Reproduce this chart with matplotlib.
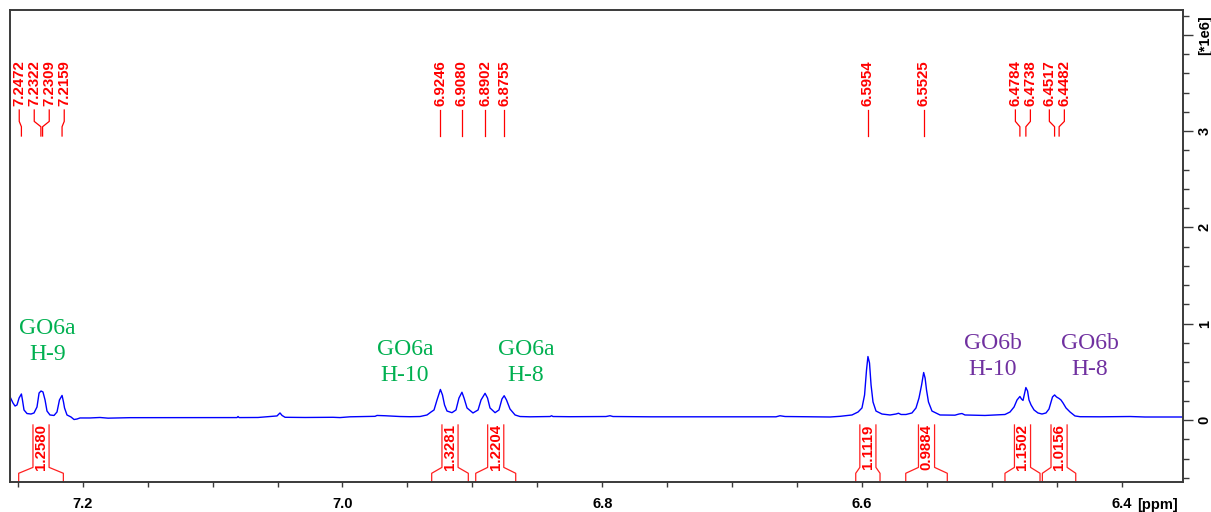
import matplotlib
matplotlib.use("Agg")
import matplotlib.pyplot as plt
import matplotlib.transforms as mtransforms
from matplotlib.ticker import MultipleLocator, FixedLocator, FixedFormatter, FormatStrFormatter

# ---------------- data ----------------
# 1H spectrum trace: chemical shift (ppm) and intensity (x 1e6)
spec_ppm = [7.2560, 7.2537, 7.2521, 7.2506, 7.2490, 7.2472, 7.2464, 7.2452, 7.2429, 7.2398,
            7.2375, 7.2352, 7.2336, 7.2321, 7.2306, 7.2290, 7.2275, 7.2252, 7.2221, 7.2198,
            7.2179, 7.2159, 7.2148, 7.2140, 7.2121, 7.2090, 7.2067, 7.2044, 7.2021, 7.1944,
            7.1867, 7.1805, 7.1636, 7.1097, 7.0812, 7.0804, 7.0796, 7.0650, 7.0504, 7.0481,
            7.0465, 7.0442, 7.0288, 7.0073, 7.0019, 6.9942, 6.9749, 6.9734, 6.9672, 6.9557,
            6.9480, 6.9403, 6.9349, 6.9318, 6.9295, 6.9272, 6.9246, 6.9230, 6.9214, 6.9195,
            6.9157, 6.9126, 6.9103, 6.9080, 6.9064, 6.9041, 6.8995, 6.8956, 6.8933, 6.8902,
            6.8883, 6.8864, 6.8825, 6.8795, 6.8772, 6.8755, 6.8737, 6.8710, 6.8671, 6.8633,
            6.8556, 6.8402, 6.8390, 6.8379, 6.8248, 6.7971, 6.7940, 6.7917, 6.7632, 6.7247,
            6.6662, 6.6631, 6.6592, 6.6477, 6.6246, 6.6169, 6.6077, 6.6030, 6.6000, 6.5980,
            6.5965, 6.5954, 6.5942, 6.5930, 6.5915, 6.5892, 6.5846, 6.5784, 6.5738, 6.5719,
            6.5699, 6.5661, 6.5615, 6.5584, 6.5561, 6.5541, 6.5525, 6.5514, 6.5503, 6.5488,
            6.5461, 6.5399, 6.5284, 6.5253, 6.5230, 6.5207, 6.5053, 6.4899, 6.4860, 6.4829,
            6.4806, 6.4784, 6.4772, 6.4760, 6.4738, 6.4725, 6.4714, 6.4698, 6.4675, 6.4645,
            6.4614, 6.4583, 6.4560, 6.4544, 6.4533, 6.4517, 6.4502, 6.4482, 6.4468, 6.4452,
            6.4429, 6.4398, 6.4360, 6.4321, 6.4167, 6.3936, 6.3821, 6.3705, 6.3530]
spec_int = [0.242, 0.177, 0.145, 0.156, 0.228, 0.270, 0.208, 0.104, 0.067, 0.062,
            0.073, 0.135, 0.280, 0.301, 0.291, 0.208, 0.093, 0.052, 0.047, 0.083,
            0.208, 0.255, 0.187, 0.125, 0.052, 0.031, 0.005, 0.010, 0.021, 0.021,
            0.026, 0.019, 0.024, 0.024, 0.025, 0.036, 0.025, 0.026, 0.042, 0.073,
            0.047, 0.028, 0.026, 0.028, 0.025, 0.033, 0.038, 0.047, 0.044, 0.036,
            0.034, 0.036, 0.052, 0.083, 0.104, 0.208, 0.317, 0.260, 0.156, 0.093,
            0.076, 0.104, 0.228, 0.288, 0.228, 0.125, 0.073, 0.104, 0.208, 0.277,
            0.228, 0.125, 0.076, 0.104, 0.218, 0.252, 0.208, 0.114, 0.052, 0.036,
            0.033, 0.036, 0.044, 0.036, 0.034, 0.036, 0.044, 0.036, 0.033, 0.033,
            0.033, 0.044, 0.036, 0.034, 0.031, 0.038, 0.052, 0.083, 0.125, 0.260,
            0.519, 0.659, 0.592, 0.363, 0.187, 0.093, 0.062, 0.052, 0.062, 0.070,
            0.057, 0.057, 0.073, 0.125, 0.228, 0.363, 0.493, 0.436, 0.312, 0.187,
            0.093, 0.052, 0.050, 0.062, 0.067, 0.052, 0.047, 0.057, 0.083, 0.135,
            0.208, 0.244, 0.218, 0.203, 0.337, 0.301, 0.208, 0.156, 0.104, 0.073,
            0.062, 0.073, 0.114, 0.187, 0.239, 0.260, 0.239, 0.223, 0.208, 0.177,
            0.125, 0.083, 0.042, 0.034, 0.033, 0.036, 0.031, 0.031, 0.031]

# picked peaks
peak_ppm = [7.2472, 7.2322, 7.2309, 7.2159, 6.9246, 6.9080, 6.8902, 6.8755,
            6.5954, 6.5525, 6.4784, 6.4738, 6.4517, 6.4482]
peak_text = ["7.2472", "7.2322", "7.2309", "7.2159", "6.9246", "6.9080", "6.8902", "6.8755",
             "6.5954", "6.5525", "6.4784", "6.4738", "6.4517", "6.4482"]

# integration regions (start, end in ppm) and integral values
integral_start = [7.2493, 6.9313, 6.8974, 6.6048, 6.5663, 6.4899, 6.4611]
integral_end = [7.2149, 6.9031, 6.8666, 6.5861, 6.5343, 6.4629, 6.4354]
integral_value = ["1.2580", "1.3281", "1.2204", "1.1119", "0.9884", "1.1502", "1.0156"]

# signal assignments (anchored at the baseline of the lower line)
assign_text = ["GO6a\nH-9", "GO6a\nH-10", "GO6a\nH-8", "GO6b\nH-10", "GO6b\nH-8"]
assign_ppm = [7.2271, 6.9518, 6.8587, 6.4993, 6.4248]
assign_int = [0.623, 0.405, 0.405, 0.467, 0.467]
assign_group = ["a", "a", "a", "b", "b"]

x_ticks = [7.2, 7.0, 6.8, 6.6, 6.4]
y_ticks = [0, 1, 2, 3, 4]
y_tick_text = ["0", "1", "2", "3", "[*1e6]"]

# ---------------- styling ----------------
SANS = ["Liberation Sans", "DejaVu Sans"]
SERIF = ["Liberation Serif", "DejaVu Serif"]
FRAME = "#3a3a3a"
GROUP_COLOR = {"a": "#00B050", "b": "#7030A0"}

fig = plt.figure(figsize=(12.11, 5.12), dpi=100)
ax = fig.add_axes([0.00867, 0.05859, 0.96780, 0.92091])

ax.plot(spec_ppm, spec_int, color="#0000ff", lw=1.0)

ax.set_xlim(7.2556, 6.3532)
ax.set_ylim(-0.644, 4.2523)

for s in ax.spines.values():
    s.set_color(FRAME)
    s.set_linewidth(1.4)

# x axis
ax.xaxis.set_major_locator(FixedLocator(x_ticks))
ax.xaxis.set_major_formatter(FormatStrFormatter("%.1f"))
ax.xaxis.set_minor_locator(MultipleLocator(0.05))
ax.tick_params(axis="x", which="both", direction="out", length=3.5, width=1.0,
               color=FRAME, pad=7)
for lab in ax.get_xticklabels():
    lab.set_fontfamily(SANS)
    lab.set_fontweight("bold")
    lab.set_fontsize(10.5)
fig.text(1137 / 1211, 1 - 509 / 512, "[ppm]", ha="left", va="baseline",
         fontsize=10.5, fontweight="bold", family=SANS)

# y axis on the right
ax.yaxis.tick_right()
ax.yaxis.set_major_locator(FixedLocator(y_ticks))
ax.yaxis.set_major_formatter(FixedFormatter(y_tick_text))
ax.yaxis.set_minor_locator(MultipleLocator(0.2))
ax.tick_params(axis="y", which="major", direction="out", length=7, width=1.0,
               color=FRAME, pad=4)
ax.tick_params(axis="y", which="minor", direction="out", length=4, width=1.0,
               color=FRAME)
for lab in ax.get_yticklabels():
    lab.set_rotation(90)
    lab.set_va("center")
    lab.set_ha("left")
    lab.set_fontfamily(SANS)
    lab.set_fontweight("bold")
    lab.set_fontsize(10.5)

trans = mtransforms.blended_transform_factory(ax.transData, ax.transAxes)

# ---- peak labels, spread apart where peaks crowd together ----
gap = 0.01155
clusters = [[i] for i in range(len(peak_ppm))]


def cluster_pos(cl):
    c = sum(peak_ppm[i] for i in cl) / len(cl)
    n = len(cl)
    return [c + ((n - 1) / 2 - k) * gap for k in range(n)]


merged = True
while merged:
    merged = False
    for k in range(len(clusters) - 1):
        a = cluster_pos(clusters[k])
        b = cluster_pos(clusters[k + 1])
        if a[-1] - b[0] < gap:
            clusters[k] = clusters[k] + clusters[k + 1]
            del clusters[k + 1]
            merged = True
            break

label_x = {}
for cl in clusters:
    for i, p in zip(cl, cluster_pos(cl)):
        label_x[i] = p

for i, p in enumerate(peak_ppm):
    lx = label_x[i]
    ax.plot([lx, lx, p, p], [0.789, 0.7648, 0.7535, 0.7338], color="#ff0000",
            lw=0.9, transform=trans, clip_on=False)
    ax.text(lx, 0.7975, peak_text[i], transform=trans, rotation=90, ha="center",
            va="bottom", color="#ff0000", fontsize=10.8, fontweight="bold", family=SANS)

# ---- integral brackets ----
half = 0.0062
for a, b, v in zip(integral_start, integral_end, integral_value):
    c = (a + b) / 2
    ax.plot([a, a, c + half, c + half], [0.0, 0.0185, 0.031, 0.121], color="#ff2020",
            lw=0.9, transform=trans, clip_on=False)
    ax.plot([b, b, c - half, c - half], [0.0, 0.0185, 0.031, 0.121], color="#ff2020",
            lw=0.9, transform=trans, clip_on=False)
    ax.text(c, 0.074, v, transform=trans, rotation=90, ha="center", va="center",
            color="#ff0000", fontsize=10.8, fontweight="bold", family=SANS)

# ---- assignments ----
for t, x, y, g in zip(assign_text, assign_ppm, assign_int, assign_group):
    ax.text(x, y, t, ha="center", va="baseline", multialignment="center",
            color=GROUP_COLOR[g], fontsize=17, family=SERIF, linespacing=1.3)

fig.savefig("out.png", dpi=100)
